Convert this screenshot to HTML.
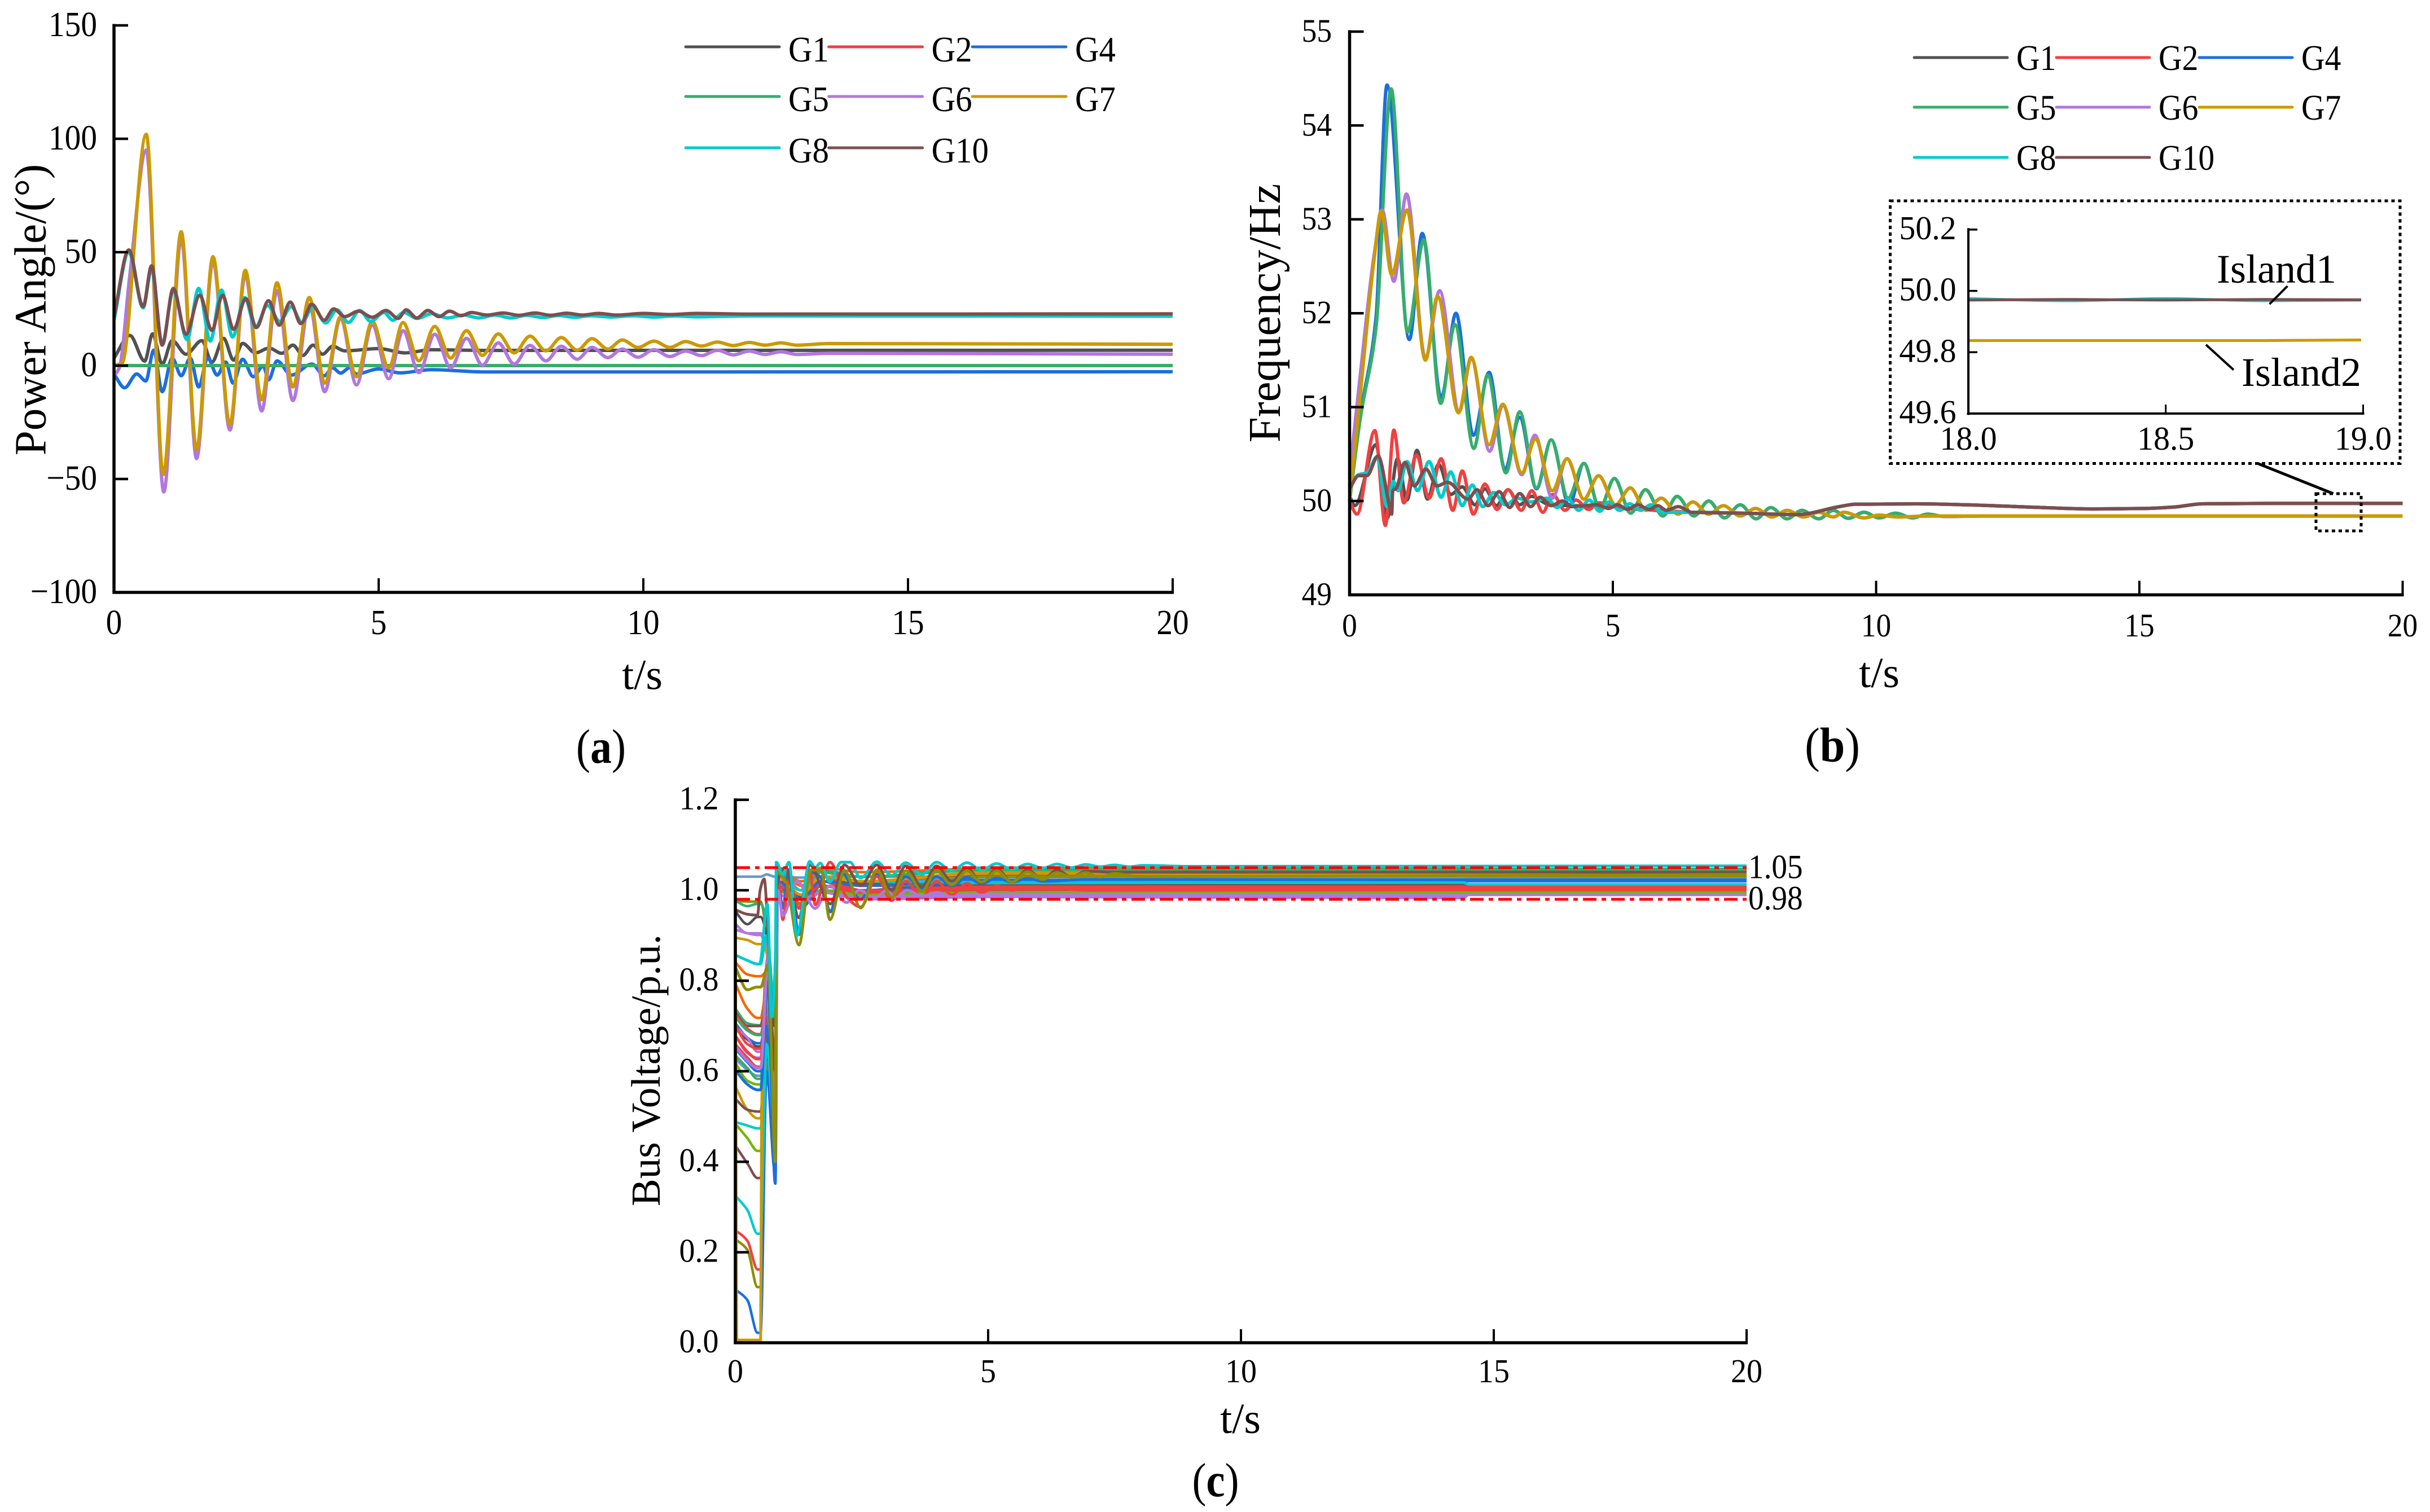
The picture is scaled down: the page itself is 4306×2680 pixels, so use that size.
<!DOCTYPE html>
<html lang="en">
<head>
<meta charset="utf-8">
<title>Power angle, frequency and bus voltage responses</title>
<style>
html,body{margin:0;padding:0;background:#fff}
svg{display:block}
text{font-family:"Liberation Serif",serif;fill:#000}
</style>
</head>
<body>
<svg id="fig" xmlns="http://www.w3.org/2000/svg" width="4306" height="2680" viewBox="0 0 4306 2680">
  <rect width="4306" height="2680" fill="#fff"/>
  <g id="panelA"></g>
  <g id="panelB"></g>
  <g id="panelC"></g>
  <g id="inset">
    <rect x="3349.5" y="356" width="903.5" height="465.5" fill="none" stroke="#000" stroke-width="5" stroke-dasharray="6 6"/>
    <rect x="4104" y="875" width="80" height="66" fill="none" stroke="#000" stroke-width="5" stroke-dasharray="6 6"/>
    <line x1="4000.6" y1="821.4" x2="4134.6" y2="875" stroke="#000" stroke-width="5"/>
  </g>
</svg>
<script>
/* ---------- Panel (a) power angle ---------- */
const aXTicks = [0, 5, 10, 15, 20];
const aYTicks = [-100, -50, 0, 50, 100, 150];
const aG1T = [0,.3,.58,.73,.91,1.1,1.36,1.66,1.85,2.07,2.26,2.43,2.67,2.93,3.17,3.38,3.57,3.76,3.94,4.13,4.36,5,5.5,6,7,20];
const aG1V = [3.3,13.3,2,14,.7,11,5,11,1.5,12,2.4,9.8,5.6,7.7,5.4,9,4.5,9,5,8.5,6.5,7.5,5.6,7,6.7,6.8];
const aG2T = [0,20];
const aG2V = [0,0];
const aG4T = [0,.2,.43,.6,.75,.91,1.1,1.27,1.44,1.6,1.77,1.95,2.11,2.25,2.43,2.63,2.82,2.92,3.08,3.35,3.74,3.97,4.13,4.28,4.45,4.58,5,5.4,6,7,20];
const aG4V = [-3.7,-9.8,-3.7,-6.8,6.8,-11.5,3.3,-4.5,3.3,-9.4,3.3,-4.2,1.6,-7.7,2.8,-4.9,-.2,-6.3,2.1,-4.2,.7,-4.5,-1,-3.3,-1,-3.7,-1.5,-3.2,-1.8,-2.8,-2.7];
const aG5T = [0,20];
const aG5V = [0,0];
const aG6T = [0,.1,.3,.61,.94,1.27,1.56,1.87,2.19,2.48,2.79,3.08,3.38,3.69,3.98,4.28,4.58,4.88,5.19,5.46,5.76,6.06,6.36,6.66,6.96,7.26,7.56,7.86,8.16,8.45,8.75,9.03,9.33,9.6,9.9,10.2,10.5,10.8,11.1,11.4,11.7,12,12.3,12.6,12.9,13.5,20];
const aG6V = [-4.5,-1,40,95,-55.7,56,-41,46,-28.4,40,-20,33,-15.4,27,-11.5,21,-8.5,17.8,-5.8,15.4,-3.1,13.8,-1,12,.2,10,.7,8.9,2.1,8.5,2.8,8,3.5,7.3,3.7,7,4,6.4,4.4,6.8,4.7,6.4,4.9,6.1,4.9,5.4,5];
const aG7T = [0,.15,.61,.93,1.27,1.56,1.87,2.19,2.48,2.79,3.08,3.38,3.69,3.98,4.28,4.58,4.88,5.19,5.46,5.76,6.06,6.36,6.66,6.96,7.26,7.56,7.86,8.16,8.45,8.75,9.03,9.33,9.6,9.9,10.2,10.5,10.8,11.1,11.4,11.7,12,12.3,12.6,12.9,13.5,20];
const aG7V = [0,1,102,-48,59,-37,48,-26,42,-15,36.5,-9.4,30,-7.7,21.6,-4.9,19.5,-1,19,2.1,17.3,3.3,15.4,4.5,14,5.6,13,6.5,12.4,6.8,11.9,7.3,11.3,8,10.8,8,10.6,8.6,10.4,8.8,10.2,9,10,9,9.7,9.4];
const aG8T = [0,.28,.55,.71,.91,1.12,1.38,1.6,1.82,2.03,2.24,2.47,2.67,2.9,3.13,3.35,3.55,3.76,4,4.21,4.43,4.64,4.85,5.1,5.27,5.47,5.73,6,6.3,6.6,6.9,7.2,7.5,7.8,8.1,8.4,8.7,9,9.4,9.8,10.2,10.6,11,12,20];
const aG8V = [20,50,25.5,42.6,9.5,33,11.5,34,10.8,33.3,12.6,30,16.8,26.5,19.5,26,19,26,18.8,24.6,19,24.3,19.5,23.4,20,23.4,20.8,22.9,21,22.3,21,22.3,21,22.2,21.2,22.1,21.3,22,21.4,22,21.4,21.9,21.5,21.9,21.8];
const aG10T = [0,.28,.55,.71,.91,1.12,1.36,1.62,1.85,2.05,2.26,2.49,2.69,2.92,3.12,3.33,3.53,3.74,3.97,4.15,4.36,4.62,4.88,5.14,5.37,5.52,5.72,5.93,6.14,6.34,6.56,6.75,7.05,7.35,7.65,7.95,8.25,8.55,8.85,9.15,9.5,10,10.5,11,12,20];
const aG10V = [21.6,51,26,44,9,34,13.8,31,15.5,31,16,29.5,16.8,28.6,17.8,28,18.5,27,20,25,21.6,24,21.3,24.3,20.8,24.6,21,24.3,21.6,24,22,23.4,22.3,23.2,22.2,23.2,22.2,23.1,22.3,23,22.3,23,22.5,23,22.7,22.8];

/* ---------- Panel (b) frequency ---------- */
const bXTicks = [0, 5, 10, 15, 20];
const bYTicks = [49, 50, 51, 52, 53, 54, 55];
const bIsland1TailT = [6.5,7.5,8.5,9.3,9.6,10.75,11.7,13.15,14.1,15.1,15.65,16.2,17.5,20];
const bIsland1TailV = [49.88,49.87,49.855,49.94,49.965,49.97,49.96,49.93,49.915,49.92,49.935,49.97,49.975,49.975];
const bWaveATailT = [4.75,5.03,5.34,5.62,5.95,6.22,6.54,6.82,7.12,7.42,7.72,8,8.31,8.59,8.91,9.19,9.47,9.77,10.06,10.37,10.69,10.98,11.3,12,20];
const bWaveATailV = [49.92,50.24,49.87,50.12,49.84,50.05,49.84,50,49.82,49.96,49.81,49.93,49.81,49.9,49.81,49.9,49.815,49.88,49.82,49.87,49.82,49.86,49.835,49.84,49.84];
const bWaveBTailT = [4.45,4.73,5.05,5.33,5.63,5.92,6.24,6.52,6.82,7.1,7.42,7.71,8.02,8.31,8.62,8.91,9.19,9.39,9.77,10.06,10.4,11,20];
const bWaveBTailV = [50.02,50.27,49.96,50.14,49.9,50.03,49.86,49.99,49.86,49.95,49.84,49.92,49.83,49.9,49.83,49.88,49.83,49.88,49.82,49.85,49.83,49.84,49.84];
const bG1T = [0,.1,.5,.71,.91,1.09,1.28,1.48,1.69,1.92,2.14,2.38,2.57,2.79,3.01,3.23,3.45,3.8,4.3,5,5.8].concat(bIsland1TailT);
const bG1V = [50.05,49.95,50.6,49.81,50.45,50.01,50.54,50.02,50.39,50.07,50.15,49.96,50.13,49.95,50.12,49.96,50.05,49.96,49.95,49.94,49.9].concat(bIsland1TailV);
const bG2T = [0,.14,.48,.68,.84,1.03,1.27,1.51,1.74,1.96,2.14,2.35,2.57,2.8,3.01,3.26,3.46,3.67,3.86,4.09,4.3,4.54,4.73,5.2,5.9].concat(bIsland1TailT);
const bG2V = [49.99,49.86,50.75,49.74,50.755,49.98,50.49,50.03,50.45,49.9,50.32,49.86,50.18,49.91,50.12,49.9,50.11,49.88,50.07,49.9,50.01,49.91,49.98,49.92,49.9].concat(bIsland1TailV);
const bG4T = [0,.2,.5,.71,1.135,1.38,1.74,2.02,2.35,2.65,2.95,3.23,3.55,3.83,4.17,4.45].concat(bWaveATailT);
const bG4V = [50,50.9,51.95,54.43,51.72,52.85,51.1,52,50.7,51.37,50.34,50.89,50.13,50.65,49.96,50.4].concat(bWaveATailV);
const bG5T = [0,.2,.5,.79,1.1,1.41,1.73,2,2.36,2.62,2.97,3.23,3.55,3.83,4.15,4.45].concat(bWaveATailT);
const bG5V = [50,50.87,51.84,54.39,51.8,52.78,51.04,51.88,50.56,51.34,50.3,50.95,50.14,50.65,50.03,50.4].concat(bWaveATailV);
const bG6T = [0,.2,.47,.62,.84,1.08,1.44,1.71,2.08,2.31,2.66,2.91,3.27,3.52,3.85,4.13].concat(bWaveBTailT);
const bG6V = [50.28,51.33,52.64,53.1,52.34,53.27,51.52,52.24,50.95,51.52,50.53,51.02,50.28,50.7,50.03,50.45].concat(bWaveBTailV);
const bG7T = [0,.2,.47,.6,.8,1.09,1.44,1.67,2.07,2.31,2.65,2.91,3.27,3.53,3.85,4.13].concat(bWaveBTailT);
const bG7V = [50,51.12,52.6,53.09,52.41,53.1,51.5,52.18,50.94,51.53,50.6,51.03,50.3,50.66,50.11,50.45].concat(bWaveBTailV);
const bG8T = [0,.17,.33,.52,.71,.83,.92,1.09,1.29,1.51,1.74,1.92,2.14,2.33,2.53,2.74,2.96,3.19,3.45,3.75,3.94,4.15,4.35,4.55,4.75,4.92,5.13,5.32,5.53,5.72,5.94].concat(bIsland1TailT);
const bG8V = [50.13,50.28,50.3,50.47,49.94,50.21,50.11,50.42,50.11,50.42,50.04,50.31,49.95,50.17,49.94,50.09,49.96,50.03,49.99,50.03,49.93,50.02,49.9,50.01,49.89,49.99,49.9,49.97,49.9,49.96,49.88].concat(bIsland1TailV);
const bG10T = [0,.17,.33,.54,.76,.8,.82,.88,1.05,1.23,1.45,1.66,1.86,2.25,2.42,2.63,2.84,3.04,3.23,3.44,3.62,3.83,4.04,4.21,4.7,4.92,5.09,5.28,5.47,5.69,5.85,6.02,6.24].concat(bIsland1TailT);
const bG10V = [50.13,50.27,50.27,50.48,49.94,49.86,50.11,50.13,50.41,50.16,50.34,50.16,50.2,50.02,50.12,49.95,50.1,49.93,50.08,49.94,50.04,49.95,50,49.94,49.96,49.92,49.96,49.91,49.96,49.91,49.95,49.9,49.94].concat(bIsland1TailV);

/* ---------- Inset ---------- */
const insetXTicks = [18, 18.5, 19];
const insetXLabels = ['18.0', '18.5', '19.0'];
const insetYTicks = [49.6, 49.8, 50, 50.2];
const insetYLabels = ['49.6', '49.8', '50.0', '50.2'];
const insetT = [18, 18.25, 18.5, 18.75, 18.995];
const insetIsland1 = [49.97, 49.972, 49.97, 49.972, 49.971];
const insetIsland1Teal = [49.975, 49.968, 49.975, 49.968, 49.97];
const insetIsland2 = [49.838, 49.838, 49.838, 49.838, 49.84];

/* ---------- Panel (c) bus voltage ---------- */
const cXTicks = [0, 5, 10, 15, 20];
const cYTicks = [0, .2, .4, .6, .8, 1];
const cYLabels = ['0.0', '0.2', '0.4', '0.6', '0.8', '1.0'];
const cTop = [1.2];
const limitValues = [1.05, .98];
const limitLabels = ['1.05', '0.98'];
const busT = [0,.24,.44,.5,.62,.78,.84,1.3,1.7,2.5,5,14.4,14.5,20];
const busColors = ['#6699CC','#8E8E00','#37AD6B','#515151','#B177DE','#B177DE','#CC9900','#00CBCC','#FB6501','#8E8E00','#FB6501','#37AD6B','#7D4E4E','#F14040','#1A6FDF','#515151','#B177DE','#F14040','#B177DE','#6699CC','#37AD6B','#6FB802','#CC9900','#7D4E4E','#6FB802','#7D4E4E','#00CBCC','#F14040','#8E8E00','#1A6FDF','#37AD6B','#F14040','#F14040','#B177DE','#1A6FDF','#00CBCC'];
const busRows = [
 [1.03,1.03,1.03,1.035,1.03,1.03,1.028,1.03,1.03,1.03,1.029,1.029],
 [.977,.975,.975,.9,.7,1.02,.99,1.03,1.01,1.03,1.033,1.033],
 [.977,.965,.97,.93,.74,1.05,1,1.045,1.03,1.05,1.048,1.047],
 [.953,.925,.941,.9,.7,1.03,.985,1.02,1,1,.998,.998],
 [.925,.905,.905,.88,.62,1.02,.97,1,.985,.99,.992,.99],
 [.913,.905,.901,.86,.6,1.01,.965,.995,.98,.985,.99,.992],
 [.895,.89,.881,.87,.62,1.04,1,1.04,1.02,1.04,1.04,1.038],
 [.857,.845,.837,.9,.72,1.04,1.02,1.03,1.02,1.018,1.017,1.013],
 [.841,.814,.81,.82,.6,1.05,1.01,1.05,1.04,1.048,1.044,1.044],
 [.83,.78,.786,.8,.55,1.02,.98,1.02,1.01,1.035,1.037,1.034],
 [.794,.738,.718,.78,.58,1.05,1.02,1.04,1.03,1.03,1.022,1.022],
 [.738,.706,.702,.78,.55,1,.97,1,.99,1,.996,.995],
 [.73,.7,.7,.75,.5,1.03,.99,1.02,1.015,1.035,1.04,1.04],
 [.726,.694,.682,.74,.5,1.03,.97,1.03,1,1.01,1.009,1.009],
 [.706,.674,.662,.72,.45,1.02,.96,1.02,1,1.02,1.024,1.026],
 [.694,.67,.655,.72,.48,1,.97,1,.99,.998,.999,.997],
 [.698,.674,.643,.7,.5,.99,.97,1,.985,.995,.993,.992],
 [.678,.643,.627,.72,.45,1.02,.97,1.02,.99,1.005,1.005,1.005],
 [.655,.623,.607,.7,.48,1.01,.98,1.01,.99,.988,.985,.99],
 [.627,.603,.59,.68,.5,1.02,.98,1.03,1.02,1.029,1.029,1.029],
 [.635,.607,.583,.7,.52,1,.98,1,.995,1.003,1.003,1.004],
 [.619,.579,.571,.68,.45,1,.97,1,.99,.996,.996,.995],
 [.567,.515,.496,.7,.5,1.03,.99,1.03,1.02,1.036,1.036,1.036],
 [.539,.515,.511,.68,.5,1.03,1,1.03,1.02,1.035,1.036,1.034],
 [.484,.452,.424,.66,.48,1,.98,1,.99,.996,.995,.995],
 [.436,.396,.364,.64,.46,1.02,.99,1.02,1.01,1.012,1.012,1.012],
 [.488,.48,.474,.72,.5,1.03,1,1.03,1.02,1.016,1.017,1.013],
 [.249,.225,.162,.62,.42,1.03,.98,1.02,1,1.006,1.004,1.004],
 [.229,.205,.123,.6,.42,1,.97,1.01,1,1.03,1.032,1.031],
 [.118,.094,.022,.6,.38,1.01,.96,1.01,1,1.02,1.021,1.02],
 [.72,.69,.68,.76,.55,1.04,1,1.04,1.03,1.045,1.045,1.045],
 [.7,.66,.65,.74,.52,1.02,.98,1.01,1,1.002,1.002,1.001],
 [.66,.63,.61,.72,.5,1.01,.98,1.01,.995,1.008,1.008,1.007],
 [.68,.64,.63,.7,.55,.99,.98,.995,.985,.992,.99,.99],
 [.65,.62,.6,.7,.5,1.02,.98,1.02,1.01,1.023,1.023,1.023],
 [.325,.293,.241,.66,.46,1.03,1,1.03,1.02,1.018,1.018,1.013]
];
const busGoldT = [0,.03,.5,.52,.6,.78,.84,1.3,1.7,2.5,5,20];
const busGoldV = [.98,.006,.006,.5,.8,.55,1.03,.99,1.03,1.02,1.037,1.037];
const busBlueT = [0,.24,.44,.5,.64,.79,.84,.94,1.06,1.26,1.47,1.68,1.88,2.09,2.48,2.8,3.09,3.37,3.69,3.98,4.28,4.58,4.87,5.17,5.47,5.78,6.08,7,14.4,20];
const busBlueV = [.603,.571,.559,.559,.8,.352,1.03,.96,1.045,.902,1.04,1.03,.952,1.04,.98,1.035,1,1.03,1.005,1.03,1.01,1.028,1.015,1.027,1.018,1.026,1.02,1.024,1.023,1.023];
const busRedT = [0,.24,.44,.5,.64,.79,.84,.94,1.06,1.26,1.47,1.58,1.87,2.2,2.48,2.8,3.09,3.37,3.69,3.98,4.28,4.58,4.87,5.17,5.47,5.78,7,20];
const busRedV = [.678,.643,.627,.627,.85,.476,1.03,.935,1.02,.96,1.045,.968,1.062,.985,.963,1.03,.977,1.02,.985,1.02,.99,1.015,.995,1.01,1,1.008,1,1.002];
const busPurpleT = [0,.24,.44,.5,.65,.79,.84,.94,1.22,1.58,1.87,2.2,2.45,2.76,3,3.16,3.4,3.69,4,4.28,5,6,14.4,14.5,20];
const busPurpleV = [.655,.623,.607,.607,.85,.5,1,.944,1.02,.96,1.01,.973,1,.983,1,.983,1.0,.987,.995,.985,.99,.985,.983,.99,.99];
const busBrownT = [0,.24,.44,.49,.57,.64,.79,.81,1,1.26,1.47,1.88,2.16,2.48,2.8,3.09,3.37,3.69,3.98,4.28,4.58,4.87,5.17,5.47,5.78,6.08,6.36,6.65,6.93,7.5,14.4,20];
const busBrownV = [.957,.947,.945,1,1.025,.925,.6,1,1.05,.939,1.056,.97,1.056,1.01,1.056,1,1.054,1.008,1.054,1.02,1.05,1.016,1.048,1.018,1.045,1.023,1.045,1.029,1.042,1.04,1.04,1.04];
const busOliveT = [0,.24,.42,.5,.65,.79,.81,1,1.26,1.49,1.7,1.87,2.16,2.48,2.8,3.09,3.37,3.69,3.98,4.28,4.58,4.87,5.17,5.47,5.78,6.08,6.36,6.65,6.93,7.2,7.5,8,20];
const busOliveV = [.83,.78,.786,.786,.835,.4,1.04,1.02,.879,1.045,1.043,.935,1.043,.961,1.045,.984,1.043,.998,1.043,1.012,1.043,1.018,1.043,1.018,1.041,1.024,1.039,1.029,1.039,1.029,1.037,1.03,1.035];
const busTealT = [0,.24,.44,.48,.635,.72,.79,.81,.94,1.06,1.22,1.47,1.58,1.68,1.87,2.09,2.27,2.48,2.8,3.09,3.37,3.69,3.98,4.28,4.58,4.87,5.17,5.47,5.78,6.08,6.36,6.65,6.93,7.22,7.5,7.79,8.07,9,20];
const busTealV = [.857,.845,.837,.837,.969,.72,.85,1.062,1.035,1.062,.9,1.064,1.05,1.06,1.019,1.062,1.062,1.027,1.063,1.033,1.061,1.035,1.062,1.043,1.061,1.045,1.059,1.046,1.058,1.049,1.058,1.05,1.057,1.052,1.056,1.052,1.055,1.053,1.054];

/* ---------- Shared legend ---------- */
const seriesNames = ['G1','G2','G4','G5','G6','G7','G8','G10'];
const seriesColors = ['#515151','#F14040','#1A6FDF','#37AD6B','#B177DE','#CC9900','#00CBCC','#7D4E4E'];

const NS = 'http://www.w3.org/2000/svg';

function smoothPath(px, py) {
  const n = px.length;
  if (n < 3) return 'M' + px[0] + ' ' + py[0] + 'L' + px[n-1] + ' ' + py[n-1];
  const h = [], s = [], m = new Array(n).fill(0);
  for (let i = 0; i < n - 1; i++) { h.push(Math.max(px[i+1] - px[i], .01)); s.push((py[i+1] - py[i]) / h[i]); }
  m[0] = s[0]; m[n-1] = s[n-2];
  for (let i = 1; i < n - 1; i++) {
    m[i] = s[i-1] * s[i] <= 0 ? 0 : 3 * (h[i-1] + h[i]) / ((h[i-1] + 2*h[i]) / s[i-1] + (2*h[i-1] + h[i]) / s[i]);
  }
  let d = 'M' + px[0].toFixed(1) + ' ' + py[0].toFixed(1);
  for (let i = 0; i < n - 1; i++) {
    d += 'C' + (px[i] + h[i]/3).toFixed(1) + ' ' + (py[i] + m[i]*h[i]/3).toFixed(1) + ' ' +
         (px[i+1] - h[i]/3).toFixed(1) + ' ' + (py[i+1] - m[i+1]*h[i]/3).toFixed(1) + ' ' +
         px[i+1].toFixed(1) + ' ' + py[i+1].toFixed(1);
  }
  return d;
}

function addCurve(parent, ts, vs, xf, yf, color, width) {
  const el = document.createElementNS(NS, 'path');
  el.setAttribute('d', smoothPath(ts.map(xf), vs.map(yf)));
  el.setAttribute('fill', 'none');
  el.setAttribute('stroke', color);
  el.setAttribute('stroke-width', width);
  el.setAttribute('stroke-linejoin', 'round');
  parent.appendChild(el);
  return el;
}

function addLine(parent, x1, y1, x2, y2, width) {
  const el = document.createElementNS(NS, 'line');
  el.setAttribute('x1', x1); el.setAttribute('y1', y1);
  el.setAttribute('x2', x2); el.setAttribute('y2', y2);
  el.setAttribute('stroke', '#000');
  el.setAttribute('stroke-width', width);
  parent.appendChild(el);
  return el;
}

function addText(parent, x, y, str, size, sx, anchor, rot) {
  const el = document.createElementNS(NS, 'text');
  el.setAttribute('transform', 'translate(' + x + ' ' + y + ')' + (rot ? ' rotate(' + rot + ')' : '') + ' scale(' + sx + ' 1)');
  el.setAttribute('font-size', size);
  el.setAttribute('text-anchor', anchor);
  el.textContent = str;
  parent.appendChild(el);
  return el;
}

function drawAxes(parent, o) {
  let el = addLine(parent, o.x0, o.yTop - 2.5, o.x0, o.yBottom + 2.5, o.w);
  
  
  el = addLine(parent, o.x0 - 2.5, o.yBottom, o.xEnd + 2, o.yBottom, o.w);
  
  
  o.xTicks.forEach(function (t, i) {
    const x = o.xf(t);
    if (t !== o.xTicks[0]) {
      const tk = addLine(parent, x, o.yBottom, x, o.yBottom - o.tick, o.tw);
      
      
    }
    const lb = addText(parent, x, o.xLabelY, o.xLabels[i], o.font, o.fontSx, 'middle');
    
    
  });
  o.yTicks.forEach(function (v, i) {
    const y = o.yf(v);
    const tk = addLine(parent, o.x0, y, o.x0 + o.tick, y, o.tw + .5);
    
    
    const lb = addText(parent, o.yLabelX, y + o.yLabelDy, o.yLabels[i], o.font, o.fontSx, 'end');
    
    
  });
}

function drawLegend(parent, o) {
  seriesNames.forEach(function (name, i) {
    const col = o.cols[i % 3];
    const row = o.rows[Math.floor(i / 3)];
    const ln = addLine(parent, col, row, col + o.len, row, 5);
    ln.setAttribute('stroke', seriesColors[i]);
    ln.setAttribute('stroke-linecap', 'round');
    
    
    const tx = addText(parent, col + o.len + 16, row + o.dy, name, o.font, o.sx, 'start');
    
    
  });
}

function caption(parent, x, y, letter, size, sx) {
  const el = document.createElementNS(NS, 'text');
  el.setAttribute('transform', 'translate(' + x + ' ' + y + ') scale(' + sx + ' 1)');
  el.setAttribute('font-size', size);
  el.setAttribute('text-anchor', 'middle');
  el.appendChild(document.createTextNode('('));
  const b = document.createElementNS(NS, 'tspan');
  b.setAttribute('font-weight', 'bold');
  b.textContent = letter;
  el.appendChild(b);
  el.appendChild(document.createTextNode(')'));
  parent.appendChild(el);
  return el;
}

/* ---- draw (a) ---- */
(function () {
  const g = document.getElementById('panelA');
  const xf = function (t) { return 202 + t * 93.8; };
  const yf = function (v) { return 648 - v * 4.02; };
  const data = [[aG1T,aG1V],[aG2T,aG2V],[aG4T,aG4V],[aG5T,aG5V],[aG6T,aG6V],[aG7T,aG7V],[aG8T,aG8V],[aG10T,aG10V]];
  data.forEach(function (d, i) {
    const c = addCurve(g, d[0], d[1], xf, yf, seriesColors[i], 6);
    
    
  });
  drawAxes(g, { x0: 202, xEnd: xf(20), yTop: yf(150), yBottom: yf(-100), w: 5.5, tw: 4, tick: 25, xf: xf, yf: yf,
    xTicks: aXTicks, xLabels: aXTicks.map(String), yTicks: aYTicks,
    yLabels: aYTicks.map(function (v) { return v < 0 ? '\u2212' + Math.abs(v) : String(v); }),
    xLabelY: 1124, yLabelX: 172, yLabelDy: 19, font: 63, fontSx: .91 });
  drawLegend(g, { cols: [1215, 1468.6, 1723], rows: [83, 171, 262], len: 166, dy: 26, font: 64, sx: .92 });
  let t = addText(g, 80.7, 549, 'Power Angle/(\u00b0)', 79, 1, 'middle', -90);
  
  
  t = addText(g, 1138, 1221.5, 't/s', 76, 1, 'middle');
  
  
  t = caption(g, 1065, 1352, 'a', 86, .88);
  
  
})();

/* ---- draw (b) ---- */
(function () {
  const g = document.getElementById('panelB');
  const xf = function (t) { return 2391.5 + t * 93.3; };
  const yf = function (v) { return 888 - (v - 50) * 166.4; };
  const data = [[bG1T,bG1V],[bG2T,bG2V],[bG4T,bG4V],[bG5T,bG5V],[bG6T,bG6V],[bG7T,bG7V],[bG8T,bG8V],[bG10T,bG10V]];
  data.forEach(function (d, i) {
    const c = addCurve(g, d[0], d[1], xf, yf, seriesColors[i], 6);
    
    
  });
  drawAxes(g, { x0: 2391.5, xEnd: xf(20), yTop: yf(55), yBottom: yf(49), w: 5.5, tw: 4, tick: 25, xf: xf, yf: yf,
    xTicks: bXTicks, xLabels: bXTicks.map(String), yTicks: bYTicks, yLabels: bYTicks.map(String),
    xLabelY: 1128, yLabelX: 2360, yLabelDy: 18, font: 58, fontSx: .92 });
  drawLegend(g, { cols: [3392, 3644, 3897], rows: [102, 190, 279], len: 165, dy: 22, font: 64, sx: .9 });
  let t = addText(g, 2268, 555, 'Frequency/Hz', 81, 1, 'middle', -90);
  
  
  t = addText(g, 3330, 1218, 't/s', 76, 1, 'middle');
  
  
  t = caption(g, 3247, 1350, 'b', 87, .92);
  
  
})();

/* ---- draw inset ---- */
(function () {
  const g = document.getElementById('inset');
  const xf = function (t) { return 3488 + (t - 18) * 699.5; };
  const yf = function (v) { return 733 - (v - 49.6) * 543.5; };
  let c = addCurve(g, insetT, insetIsland1Teal, xf, yf, '#00CBCC', 5);
  
  
  c = addCurve(g, insetT, insetIsland1, xf, yf, '#7D4E4E', 5);
  
  
  c = addCurve(g, insetT, insetIsland2, xf, yf, '#CC9900', 5);
  
  
  drawAxes(g, { x0: 3488, xEnd: xf(19), yTop: yf(50.2), yBottom: yf(49.6), w: 4, tw: 3, tick: 16, xf: xf, yf: yf,
    xTicks: insetXTicks, xLabels: insetXLabels, yTicks: insetYTicks, yLabels: insetYLabels,
    xLabelY: 797, yLabelX: 3466.6, yLabelDy: 17, font: 59, fontSx: .98 });
  let t = addText(g, 3928, 501, 'Island1', 72, 1, 'start');
  
  
  t = addText(g, 3972, 684, 'Island2', 72, 1, 'start');
  
  
  let l = addLine(g, 4053.5, 507, 4021.7, 539, 4);
  
  
  l = addLine(g, 3909, 611, 3958, 655.6, 4);
  
  
})();

/* ---- draw (c) ---- */
(function () {
  const g = document.getElementById('panelC');
  const xf = function (t) { return 1303 + t * 89.6; };
  const yf = function (v) { return 2380 - v * 802; };
  busRows.forEach(function (row, i) {
    const vals = row.slice(0, 3).concat([row[2]], row.slice(3), [row[11]]);
    const c = addCurve(g, busT, vals, xf, yf, busColors[i], 4.5);
    
    
  });
  const special = [
    [busGoldT, busGoldV, '#CC9900', 'bus-gold'],
    [busBlueT, busBlueV, '#1A6FDF', 'bus-blue'],
    [busRedT, busRedV, '#F14040', 'bus-red'],
    [busPurpleT, busPurpleV, '#B177DE', 'bus-purple'],
    [busBrownT, busBrownV, '#7D4E4E', 'bus-brown'],
    [busOliveT, busOliveV, '#8E8E00', 'bus-olive'],
    [busTealT, busTealV, '#00CBCC', 'bus-teal']
  ];
  special.forEach(function (s) {
    const c = addCurve(g, s[0], s[1], xf, yf, s[2], 5);
    
    
  });
  limitValues.forEach(function (v, i) {
    const y = yf(v);
    const l = addLine(g, 1305, y, xf(20), y, 5);
    l.setAttribute('stroke', '#FF0000');
    l.setAttribute('stroke-dasharray', '24 9 8 9');
    
    
    const lb = addText(g, 3098, y + (i === 0 ? 18.7 : 18), limitLabels[i], 60, .92, 'start');
    
    
  });
  drawAxes(g, { x0: 1303, xEnd: xf(20), yTop: yf(cTop[0]), yBottom: yf(0), w: 5.5, tw: 4, tick: 24, xf: xf, yf: yf,
    xTicks: cXTicks, xLabels: cXTicks.map(String), yTicks: cYTicks.concat(cTop), yLabels: cYLabels.concat(['1.2']),
    xLabelY: 2450, yLabelX: 1273.5, yLabelDy: 17, font: 59, fontSx: .95 });
  let t = addText(g, 1169, 1897, 'Bus Voltage/p.u.', 73, 1, 'middle', -90);
  
  
  t = addText(g, 2198, 2540, 't/s', 76, 1, 'middle');
  
  
  t = caption(g, 2154, 2652, 'c', 85, .88);
  
  
})();
</script>
</body>
</html>
